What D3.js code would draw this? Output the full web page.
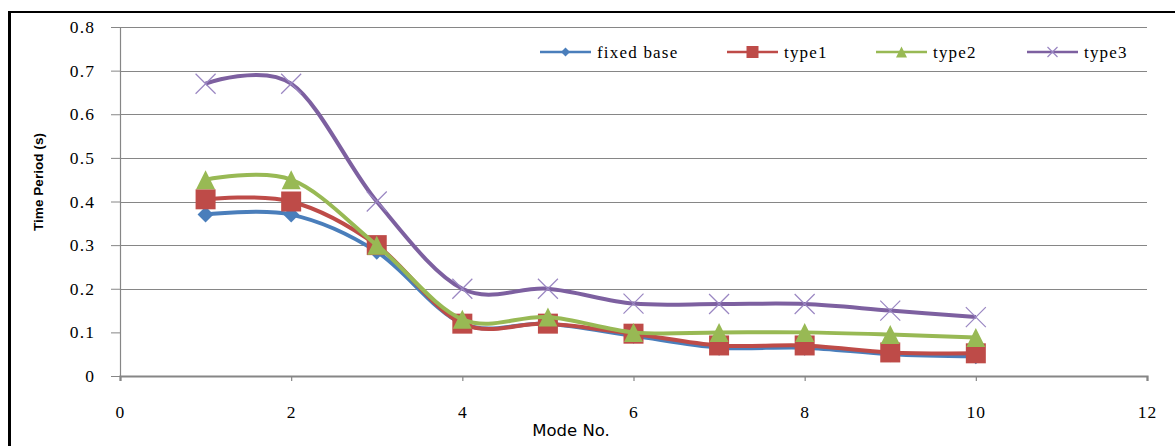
<!DOCTYPE html>
<html><head><meta charset="utf-8">
<script src="https://cdn.jsdelivr.net/npm/d3@7"></script>
<style>body{margin:0;background:#fff}svg{display:block}</style>
</head><body>
<svg id="c" width="1175" height="446"></svg>
<script>
// ---- data ----
const modes = [1, 2, 3, 4, 5, 6, 7, 8, 9, 10];
const fixedBase = [0.37, 0.37, 0.285, 0.12, 0.12, 0.092, 0.065, 0.065, 0.05, 0.045];
const type1 = [0.405, 0.40, 0.30, 0.12, 0.12, 0.097, 0.07, 0.07, 0.054, 0.052];
const type2 = [0.45, 0.45, 0.30, 0.13, 0.135, 0.10, 0.10, 0.10, 0.095, 0.088];
const type3 = [0.67, 0.67, 0.40, 0.20, 0.20, 0.166, 0.165, 0.165, 0.15, 0.135];
const seriesNames = ["fixed base", "type1", "type2", "type3"];
const xTicks = [0, 2, 4, 6, 8, 10, 12];
const yTicks = [0, 0.1, 0.2, 0.3, 0.4, 0.5, 0.6, 0.7, 0.8];
const yGrid = [0.2, 0.3, 0.4, 0.5, 0.6, 0.7, 0.8];
const xTitle = "Mode No.";
const yTitle = "Time Period (s)";

// ---- styles ----
const colors = ["#4A7EBB", "#BE4B48", "#98B954", "#7D60A0"];
const markerColors = ["#4A7EBB", "#BE4B48", "#98B954", "#9A86C2"];
const markers = ["diamond", "square", "triangle", "x"];
const serif = "'Liberation Serif','Times New Roman',serif";

const svg = d3.select("#c");
const x = d3.scaleLinear().domain([0, 12]).range([120, 1147]);
const y = d3.scaleLinear().domain([0, 0.8]).range([376, 27]);

// frame
svg.append("line").attr("x1", 9.5).attr("x2", 9.5).attr("y1", 11).attr("y2", 446)
  .attr("stroke", "#000").attr("stroke-width", 3);
svg.append("line").attr("x1", 8).attr("x2", 1175).attr("y1", 12).attr("y2", 12)
  .attr("stroke", "#000").attr("stroke-width", 2);

// gridlines
svg.append("g").selectAll("line").data(yGrid).join("line")
  .attr("x1", x(0)).attr("x2", x(12))
  .attr("y1", d => Math.round(y(d)) + 0.5).attr("y2", d => Math.round(y(d)) + 0.5)
  .attr("stroke", "#868686").attr("stroke-width", 1.2);

// y axis
const yAxis = svg.append("g").attr("transform", `translate(${x(0)},0)`)
  .call(d3.axisLeft(y).tickValues(yTicks).tickSize(9).tickPadding(16)
    .tickFormat(d => d === 0 ? "0" : d.toFixed(1)));
yAxis.select(".domain").attr("stroke", "#868686").attr("stroke-width", 1.2);
yAxis.selectAll(".tick line").attr("stroke", "#868686");
yAxis.selectAll("text").attr("font-family", serif).attr("font-size", 17.5)
  .attr("letter-spacing", 1.1).attr("fill", "#000").attr("dy", "0.32em");

// x axis
const xAxis = svg.append("g").attr("transform", `translate(0,${y(0)})`)
  .call(d3.axisBottom(x).tickValues(xTicks).tickSize(5).tickSizeOuter(5).tickPadding(0));
xAxis.select(".domain").attr("stroke", "#868686").attr("stroke-width", 2.2);
xAxis.selectAll(".tick line").attr("stroke", "#868686").attr("stroke-width", 1.2);
xAxis.selectAll("text").attr("font-family", serif).attr("font-size", 17.5)
  .attr("letter-spacing", 1.1).attr("fill", "#000").attr("y", 41.5).attr("dy", 0);

// titles
svg.append("text").attr("x", 571).attr("y", 436).attr("text-anchor", "middle")
  .attr("font-family", "'DejaVu Sans',sans-serif").attr("font-size", 16.5).attr("fill", "#000")
  .text(xTitle);
svg.append("text").attr("transform", "translate(43,182) rotate(-90)").attr("text-anchor", "middle")
  .attr("font-family", "'Liberation Sans',Arial,sans-serif").attr("font-weight", "bold")
  .attr("font-size", 13.6).attr("fill", "#000").text(yTitle);

// marker path generator
function markerPath(kind, s) {
  const h = s / 2;
  if (kind === "diamond") return `M0,${-h}L${h},0L0,${h}L${-h},0Z`;
  if (kind === "square") return `M${-h},${-h}H${h}V${h}H${-h}Z`;
  if (kind === "triangle") return `M0,${-h}L${h},${h}L${-h},${h}Z`;
  return `M${-h},${-h}L${h},${h}M${h},${-h}L${-h},${h}`;
}
function drawMarker(g, kind, i, s) {
  const p = g.append("path").attr("d", markerPath(kind, s));
  if (kind === "x") p.attr("fill", "none").attr("stroke", markerColors[i]).attr("stroke-width", 1.2);
  else p.attr("fill", markerColors[i]);
  return p;
}
const markerSizes = [16, 20, 19, 20];

const allSeries = [fixedBase, type1, type2, type3];
const line = d3.line().x(d => x(d[0])).y(d => y(d[1])).curve(d3.curveCardinal.tension(0));

allSeries.forEach((vals, i) => {
  const pts = modes.map((m, j) => [m, vals[j]]);
  const g = svg.append("g");
  g.append("path").datum(pts).attr("d", line).attr("fill", "none")
    .attr("stroke", colors[i]).attr("stroke-width", 4).attr("stroke-linejoin", "round");
  pts.forEach(p => {
    const mg = g.append("g").attr("transform", `translate(${x(p[0])},${y(p[1])})`);
    drawMarker(mg, markers[i], i, markerSizes[i]);
  });
});

// legend
const legendX = [540, 727, 876, 1027];
const legendY = 52;
const legendMarkerSizes = [9, 12, 11, 10];
seriesNames.forEach((name, i) => {
  const g = svg.append("g").attr("transform", `translate(${legendX[i]},${legendY})`);
  g.append("line").attr("x1", 0).attr("x2", 51).attr("y1", 0).attr("y2", 0)
    .attr("stroke", colors[i]).attr("stroke-width", 2.5);
  const mg = g.append("g").attr("transform", "translate(25.5,0)");
  drawMarker(mg, markers[i], i, legendMarkerSizes[i]);
  g.append("text").attr("x", 57).attr("y", 5.5).attr("font-family", serif)
    .attr("font-size", 17).attr("letter-spacing", 1.2).attr("fill", "#000").text(name);
});
</script>
</body></html>
